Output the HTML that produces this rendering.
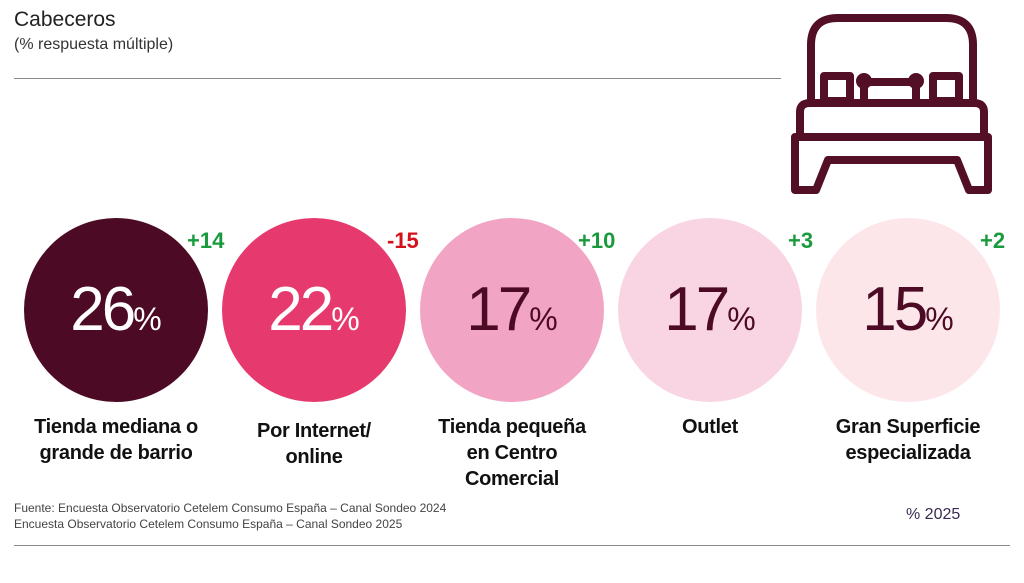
<!DOCTYPE html>
<html><head><meta charset="utf-8"><style>
body{margin:0;width:1024px;height:583px;background:#fff;font-family:"Liberation Sans",sans-serif;position:relative;overflow:hidden;color:#222}
.a{position:absolute}
.c{position:absolute;width:184px;height:184px;border-radius:50%;top:218px;text-align:center;line-height:184px;font-size:62px;font-weight:300;letter-spacing:-3px}
.c span{font-size:32px;letter-spacing:0}
.d{position:absolute;top:228px;font-size:22px;font-weight:bold}
.l{position:absolute;top:414px;width:200px;text-align:center;font-size:20px;line-height:26px;color:#111;font-weight:bold;letter-spacing:-0.3px}
</style></head><body>
<div class="a" style="left:14px;top:8px;font-size:21px;color:#222">Cabeceros</div>
<div class="a" style="left:14px;top:36px;font-size:16px;color:#333">(% respuesta múltiple)</div>
<div class="a" style="left:14px;top:78px;width:767px;height:1px;background:#888"></div>
<svg class="a" style="left:780px;top:0" width="240" height="210" viewBox="780 0 240 210" fill="none" stroke="#520f26" stroke-width="8" stroke-linejoin="round">
<path d="M811 102 V45 Q811 18 838 18 H946 Q973 18 973 45 V102"/>
<rect x="824" y="76" width="26" height="25"/><rect x="933" y="76" width="26" height="25"/>
<path d="M864 100 V82 H916 V100"/><circle cx="864" cy="81" r="4"/><circle cx="916" cy="81" r="4"/>
<path d="M800 136 V112 Q800 103 810 103 H974 Q984 103 984 112 V136"/>
<path d="M795 137 H988 V190 H969 L957 160 H828 L816 190 H795 Z"/>
</svg>
<div class="c" style="left:24px;background:#4c0a25;color:#fff">26<span>%</span></div>
<div class="c" style="left:222px;background:#e63a6e;color:#fff">22<span>%</span></div>
<div class="c" style="left:420px;background:#f2a4c4;color:#4c0a25">17<span>%</span></div>
<div class="c" style="left:618px;background:#f9d4e2;color:#4c0a25">17<span>%</span></div>
<div class="c" style="left:816px;background:#fde6ea;color:#4c0a25">15<span>%</span></div>
<div class="d" style="left:187px;color:#1a9a3e">+14</div>
<div class="d" style="left:387px;color:#d4121c">-15</div>
<div class="d" style="left:578px;color:#1a9a3e">+10</div>
<div class="d" style="left:788px;color:#1a9a3e">+3</div>
<div class="d" style="left:980px;color:#1a9a3e">+2</div>
<div class="l" style="left:16px">Tienda mediana o grande de barrio</div>
<div class="l" style="left:214px;top:418px">Por Internet/<br>online</div>
<div class="l" style="left:412px">Tienda pequeña<br>en Centro<br>Comercial</div>
<div class="l" style="left:610px">Outlet</div>
<div class="l" style="left:808px">Gran Superficie especializada</div>
<div class="a" style="left:14px;top:500px;font-size:12px;color:#444;line-height:16px">Fuente: Encuesta Observatorio Cetelem Consumo España – Canal Sondeo 2024<br>Encuesta Observatorio Cetelem Consumo España – Canal Sondeo 2025</div>
<div class="a" style="left:906px;top:506px;font-size:16px;color:#3a2a50">% 2025</div>
<div class="a" style="left:14px;top:545px;width:996px;height:1px;background:#888"></div>
</body></html>
